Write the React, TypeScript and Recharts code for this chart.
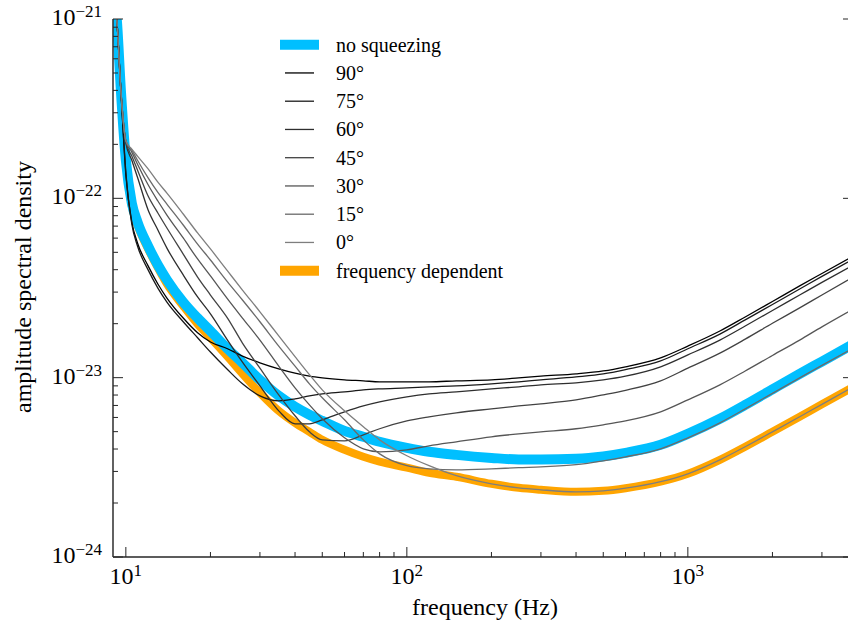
import React from 'react';
import { LineChart, Line, XAxis, YAxis } from 'recharts';

// frequency (Hz)
const frequencies = [9.0, 9.3, 9.6, 10, 10.5, 11, 12, 13, 14, 16, 18, 20, 23, 26, 30, 35, 40, 45, 50, 60, 70, 80, 100, 120, 150, 200, 250, 300, 400, 500, 600, 800, 1000, 1300, 1600, 2000, 2500, 3000, 4000];

const noSqueezing = [1.6e-21, 9.6e-22, 4.0e-22, 1.63e-22, 9.41e-23, 7.38e-23, 5.42e-23, 4.25e-23, 3.51e-23, 2.64e-23, 2.15e-23, 1.82e-23, 1.45e-23, 1.21e-23, 9.72e-24, 7.92e-24, 6.88e-24, 6.21e-24, 5.74e-24, 5.05e-24, 4.68e-24, 4.39e-24, 4.06e-24, 3.86e-24, 3.71e-24, 3.57e-24, 3.50e-24, 3.50e-24, 3.53e-24, 3.64e-24, 3.81e-24, 4.22e-24, 4.86e-24, 5.90e-24, 7.05e-24, 8.61e-24, 1.05e-23, 1.23e-23, 1.58e-23];
const deg90 = [1.6e-21, 9.6e-22, 4.0e-22, 1.35e-22, 7.38e-23, 5.64e-23, 4.20e-23, 3.33e-23, 2.78e-23, 2.15e-23, 1.78e-23, 1.58e-23, 1.45e-23, 1.32e-23, 1.21e-23, 1.12e-23, 1.06e-23, 1.02e-23, 9.97e-24, 9.72e-24, 9.60e-24, 9.48e-24, 9.48e-24, 9.48e-24, 9.60e-24, 9.72e-24, 9.97e-24, 1.02e-23, 1.05e-23, 1.09e-23, 1.15e-23, 1.29e-23, 1.50e-23, 1.82e-23, 2.18e-23, 2.66e-23, 3.25e-23, 3.81e-23, 4.89e-23];
const deg75 = [1.6e-21, 9.6e-22, 4.0e-22, 1.40e-22, 7.19e-23, 5.42e-23, 3.99e-23, 3.16e-23, 2.64e-23, 2.05e-23, 1.67e-23, 1.39e-23, 1.11e-23, 9.24e-24, 7.92e-24, 7.43e-24, 7.62e-24, 7.92e-24, 8.12e-24, 8.33e-24, 8.55e-24, 8.66e-24, 8.77e-24, 8.89e-24, 9.00e-24, 9.24e-24, 9.48e-24, 9.72e-24, 1.01e-23, 1.05e-23, 1.11e-23, 1.24e-23, 1.45e-23, 1.75e-23, 2.10e-23, 2.56e-23, 3.12e-23, 3.67e-23, 4.71e-23];
const deg60 = [1.6e-21, 9.6e-22, 4.0e-22, 2.03e-22, 1.63e-22, 1.31e-22, 8.61e-23, 6.66e-23, 5.28e-23, 3.74e-23, 2.82e-23, 2.27e-23, 1.62e-23, 1.22e-23, 9.00e-24, 6.53e-24, 5.53e-24, 5.53e-24, 5.82e-24, 6.45e-24, 6.96e-24, 7.33e-24, 7.82e-24, 8.12e-24, 8.33e-24, 8.66e-24, 8.89e-24, 9.12e-24, 9.35e-24, 9.72e-24, 1.02e-23, 1.15e-23, 1.34e-23, 1.62e-23, 1.94e-23, 2.37e-23, 2.89e-23, 3.40e-23, 4.36e-23];
const deg45 = [1.6e-21, 9.6e-22, 4.0e-22, 2.06e-22, 1.72e-22, 1.44e-22, 1.03e-22, 8.28e-23, 6.83e-23, 4.89e-23, 3.64e-23, 2.89e-23, 2.15e-23, 1.56e-23, 1.13e-23, 8.02e-24, 6.13e-24, 4.99e-24, 4.50e-24, 4.44e-24, 4.80e-24, 5.19e-24, 5.74e-24, 6.05e-24, 6.37e-24, 6.70e-24, 6.96e-24, 7.15e-24, 7.52e-24, 8.02e-24, 8.50e-24, 9.60e-24, 1.13e-23, 1.37e-23, 1.64e-23, 2.01e-23, 2.45e-23, 2.89e-23, 3.74e-23];
const deg30 = [1.6e-21, 9.6e-22, 4.0e-22, 2.09e-22, 1.81e-22, 1.55e-22, 1.19e-22, 9.66e-23, 8.07e-23, 6.01e-23, 4.59e-23, 3.69e-23, 2.75e-23, 2.15e-23, 1.62e-23, 1.16e-23, 8.77e-24, 7.05e-24, 5.90e-24, 4.62e-24, 4.01e-24, 3.86e-24, 3.96e-24, 4.17e-24, 4.39e-24, 4.68e-24, 4.86e-24, 4.99e-24, 5.19e-24, 5.46e-24, 5.74e-24, 6.45e-24, 7.52e-24, 9.12e-24, 1.09e-23, 1.33e-23, 1.62e-23, 1.92e-23, 2.48e-23];
const deg15 = [1.6e-21, 9.6e-22, 4.0e-22, 2.09e-22, 1.86e-22, 1.63e-22, 1.30e-22, 1.08e-22, 9.29e-23, 7.10e-23, 5.56e-23, 4.53e-23, 3.42e-23, 2.71e-23, 2.05e-23, 1.50e-23, 1.16e-23, 9.24e-24, 7.72e-24, 5.82e-24, 4.50e-24, 3.76e-24, 3.23e-24, 3.10e-24, 3.06e-24, 3.10e-24, 3.15e-24, 3.18e-24, 3.27e-24, 3.44e-24, 3.62e-24, 4.01e-24, 4.62e-24, 5.60e-24, 6.70e-24, 8.18e-24, 9.97e-24, 1.17e-23, 1.50e-23];
const deg0 = [1.6e-21, 9.6e-22, 4.0e-22, 2.09e-22, 1.88e-22, 1.72e-22, 1.46e-22, 1.23e-22, 1.07e-22, 8.18e-23, 6.41e-23, 5.22e-23, 3.94e-23, 3.08e-23, 2.33e-23, 1.71e-23, 1.31e-23, 1.04e-23, 8.55e-24, 6.53e-24, 5.32e-24, 4.50e-24, 3.67e-24, 3.23e-24, 2.84e-24, 2.56e-24, 2.43e-24, 2.37e-24, 2.31e-24, 2.34e-24, 2.42e-24, 2.63e-24, 2.91e-24, 3.48e-24, 4.12e-24, 4.99e-24, 6.05e-24, 7.10e-24, 9.12e-24];
const freqDependent = [1.6e-21, 9.6e-22, 4.0e-22, 1.59e-22, 9.06e-23, 7.10e-23, 5.22e-23, 4.09e-23, 3.33e-23, 2.51e-23, 1.99e-23, 1.67e-23, 1.31e-23, 1.05e-23, 8.23e-24, 6.53e-24, 5.60e-24, 4.99e-24, 4.50e-24, 3.96e-24, 3.62e-24, 3.40e-24, 3.15e-24, 2.95e-24, 2.80e-24, 2.56e-24, 2.43e-24, 2.37e-24, 2.31e-24, 2.34e-24, 2.42e-24, 2.63e-24, 2.91e-24, 3.48e-24, 4.12e-24, 4.99e-24, 6.05e-24, 7.10e-24, 9.12e-24];

const xTicks = [10, 20, 30, 40, 50, 60, 70, 80, 90, 100, 200, 300, 400, 500, 600, 700, 800, 900, 1000, 2000, 3000];
const yTicks = [
  1e-24, 2e-24, 3e-24, 4e-24, 5e-24, 6e-24, 7e-24, 8e-24, 9e-24,
  1e-23, 2e-23, 3e-23, 4e-23, 5e-23, 6e-23, 7e-23, 8e-23, 9e-23,
  1e-22, 2e-22, 3e-22, 4e-22, 5e-22, 6e-22, 7e-22, 8e-22, 9e-22,
  1e-21,
];
const xDomain = [9, 3870];
const yDomain = [1e-24, 1e-21];

const thinSeries = [
  { key: 'deg90', label: '90°', color: '#000000', values: deg90 },
  { key: 'deg75', label: '75°', color: '#1a1a1a', values: deg75 },
  { key: 'deg60', label: '60°', color: '#2e2e2e', values: deg60 },
  { key: 'deg45', label: '45°', color: '#424242', values: deg45 },
  { key: 'deg30', label: '30°', color: '#565656', values: deg30 },
  { key: 'deg15', label: '15°', color: '#6a6a6a', values: deg15 },
  { key: 'deg0', label: '0°', color: '#7e7e7e', values: deg0 },
];

const BLUE = '#00BFFF';
const ORANGE = '#FFA500';
const AXIS = '#262626';
const FONT = 'Liberation Serif';

const data = frequencies.map((f, i) => {
  const row: Record<string, number> = { f, noSqueezing: noSqueezing[i], freqDependent: freqDependent[i] };
  thinSeries.forEach((s) => { row[s.key] = s.values[i]; });
  return row;
});

function isMajor(v: number) {
  const l = Math.log10(v);
  return Math.abs(l - Math.round(l)) < 1e-6;
}
function expText(v: number) {
  return String(Math.round(Math.log10(v))).replace('-', '\u2212');
}

const BottomTick = (p: any) => {
  const { x, y, payload } = p;
  const major = isMajor(payload.value);
  return (
    <g>
      <line x1={x} x2={x} y1={y} y2={y - (major ? 10 : 5)} stroke={AXIS} strokeWidth={1} />
      {major && (
        <text x={x} y={y + 27} textAnchor="middle" fontFamily={FONT} fontSize={24} fill="#000">
          10<tspan dy={-8} fontSize={17}>{expText(payload.value)}</tspan>
        </text>
      )}
    </g>
  );
};
const TopTick = (p: any) => {
  const { x, y, payload } = p;
  const major = isMajor(payload.value);
  return <line x1={x} x2={x} y1={y} y2={y + (major ? 10 : 5)} stroke={AXIS} strokeWidth={1} />;
};
const LeftTick = (p: any) => {
  const { x, y, payload } = p;
  const major = isMajor(payload.value);
  return (
    <g>
      <line x1={x} x2={x + (major ? 10 : 5)} y1={y} y2={y} stroke={AXIS} strokeWidth={1} />
      {major && (
        <text x={x - 11} y={y + 6} textAnchor="end" fontFamily={FONT} fontSize={24} fill="#000">
          10<tspan dy={-8} fontSize={17}>{expText(payload.value)}</tspan>
        </text>
      )}
    </g>
  );
};
const RightTick = (p: any) => {
  const { x, y, payload } = p;
  const major = isMajor(payload.value);
  return <line x1={x} x2={x - (major ? 10 : 5)} y1={y} y2={y} stroke={AXIS} strokeWidth={1} />;
};

const legendRows = [
  { label: 'no squeezing', color: BLUE, thick: true },
  ...thinSeries.map((s) => ({ label: s.label, color: s.color, thick: false })),
  { label: 'frequency dependent', color: ORANGE, thick: true },
];

export default function App() {
  return (
    <div style={{ position: 'absolute', left: 0, top: 0, width: 848, height: 629, overflow: 'hidden', background: '#fff' }}>
      <LineChart width={866} height={629} data={data} margin={{ top: 19, right: 0, bottom: 0, left: 0 }}>
        <XAxis
          dataKey="f"
          type="number"
          scale="log"
          domain={xDomain}
          allowDataOverflow
          ticks={xTicks}
          interval={0}
          height={72}
          tickSize={0}
          tickMargin={0}
          tickLine={false}
          tick={<BottomTick />}
          axisLine={{ stroke: AXIS, strokeWidth: 1.3 }}
        />
        <XAxis
          xAxisId="top"
          orientation="top"
          type="number"
          scale="log"
          domain={xDomain}
          allowDataOverflow
          ticks={xTicks}
          interval={0}
          height={0}
          tickSize={0}
          tickMargin={0}
          tickLine={false}
          tick={<TopTick />}
          axisLine={{ stroke: AXIS, strokeWidth: 1.3 }}
        />
        <YAxis
          type="number"
          scale="log"
          domain={yDomain}
          allowDataOverflow
          ticks={yTicks}
          interval={0}
          width={113}
          tickSize={0}
          tickMargin={0}
          tickLine={false}
          tick={<LeftTick />}
          axisLine={{ stroke: '#3a3a3a', strokeWidth: 1.6 }}
        />
        <YAxis
          yAxisId="right"
          orientation="right"
          type="number"
          scale="log"
          domain={yDomain}
          allowDataOverflow
          ticks={yTicks}
          interval={0}
          width={13}
          tickSize={0}
          tickMargin={0}
          tickLine={false}
          tick={<RightTick />}
          axisLine={{ stroke: AXIS, strokeWidth: 1.3 }}
        />
        <Line dataKey="freqDependent" stroke={ORANGE} strokeWidth={8} dot={false} activeDot={false} type="monotone" isAnimationActive={false} strokeLinejoin="round" />
        <Line dataKey="noSqueezing" stroke={BLUE} strokeWidth={10} dot={false} activeDot={false} type="monotone" isAnimationActive={false} strokeLinejoin="round" />
        {thinSeries.map((s) => (
          <Line key={s.key} dataKey={s.key} stroke={s.color} strokeWidth={1.3} dot={false} activeDot={false} type="monotone" isAnimationActive={false} />
        ))}
      </LineChart>
      <svg width={848} height={629} style={{ position: 'absolute', left: 0, top: 0, pointerEvents: 'none' }}>
        {legendRows.map((r, i) => {
          const cy = 44.7 + 28.25 * i;
          return (
            <g key={r.label}>
              {r.thick ? (
                <line x1={280} x2={319} y1={cy} y2={cy} stroke={r.color} strokeWidth={10} />
              ) : (
                <line x1={285} x2={314} y1={cy} y2={cy} stroke={r.color} strokeWidth={1.3} />
              )}
              <text x={336} y={cy + 7} fontFamily={FONT} fontSize={20} fill="#000">{r.label}</text>
            </g>
          );
        })}
        <text x={485} y={615} textAnchor="middle" fontFamily={FONT} fontSize={24} fill="#000">frequency (Hz)</text>
        <text transform="translate(31, 287) rotate(-90)" textAnchor="middle" fontFamily={FONT} fontSize={24} fill="#000">amplitude spectral density</text>
      </svg>
    </div>
  );
}
